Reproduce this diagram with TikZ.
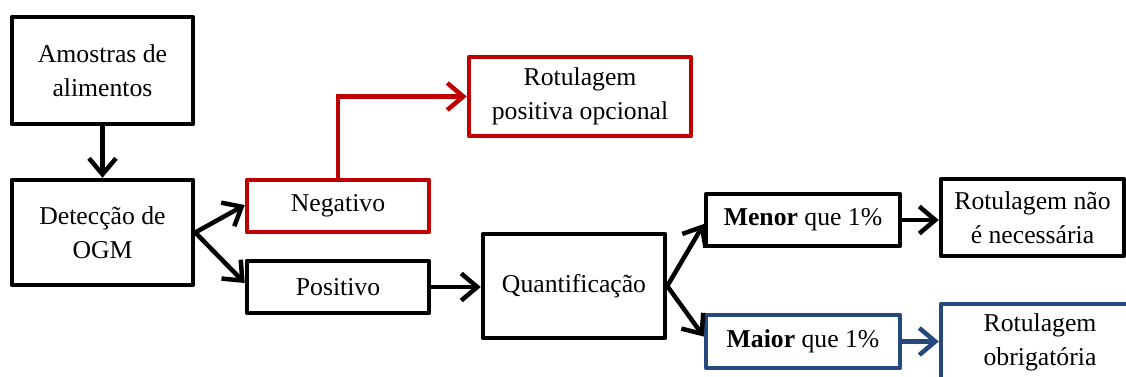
\documentclass[tikz,border=0pt]{standalone}
\usepackage{fontspec}
\setmainfont{Liberation Serif}
\usetikzlibrary{arrows.meta,calc}
\definecolor{negred}{RGB}{192,0,0}
\definecolor{posblue}{RGB}{36,74,125}

\begin{document}
\begin{tikzpicture}[x=1pt,y=-1pt,
  box/.style 2 args={draw, line width=4.5pt, line join=round, inner sep=0pt,
    minimum width=#1pt, minimum height=#2pt, align=center,
    font=\fontsize{25.7}{34}\selectfont},
  flow/.style={line width=4.5pt, -{Straight Barb[length=16pt,width=27pt]}}
]
\useasboundingbox (0,0) rectangle (1126,376);
\clip (0,0) rectangle (1126,376);

% boxes
\node[box={181}{107}] (amostras) at (102.5,70.5) {Amostras de\\alimentos};
\node[box={181}{105}] (deteccao) at (102.5,232.5) {Detecção de\\OGM};
\node[box={182}{52}, draw=negred] (negativo) at (338,206) {Negativo};
\node[box={182}{52}] (positivo) at (338,287) {Positivo};
\node[box={222}{79}, draw=negred] (rotpos) at (580,96.5) {Rotulagem\\positiva opcional};
\node[box={182}{104}] (quant) at (574,286) {Quantificação};
\node[box={194}{52}] (menor) at (803,220) {\textbf{Menor} que 1\%};
\node[box={194}{53}, draw=posblue] (maior) at (803,341.5) {\textbf{Maior} que 1\%};
\node[box={183}{77}] (rotnao) at (1032.5,217.5) {Rotulagem não\\é necessária};
\node[box={198}{77}, draw=posblue] (rotobr) at (1040,342.5) {Rotulagem\\obrigatória};

% connectors
\draw[flow] (amostras.south) -- (deteccao.north);
\draw[flow] (deteccao.east) -- ($(negativo.west)+(0,-1)$);
\draw[flow] (deteccao.east) -- ($(positivo.west)+(0,-4)$);
\draw[flow, negred] (negativo.north) |- (rotpos.west);
\draw[flow] (positivo.east) -- (positivo.east -| quant.west);
\draw[flow] (quant.east) -- ($(menor.west)+(0,4)$);
\draw[flow] (quant.east) -- ($(maior.west)+(0,-5)$);
\draw[flow] (menor.east) -- (menor.east -| rotnao.west);
\draw[flow, posblue] (maior.east) -- (maior.east -| rotobr.west);
\end{tikzpicture}
\end{document}
